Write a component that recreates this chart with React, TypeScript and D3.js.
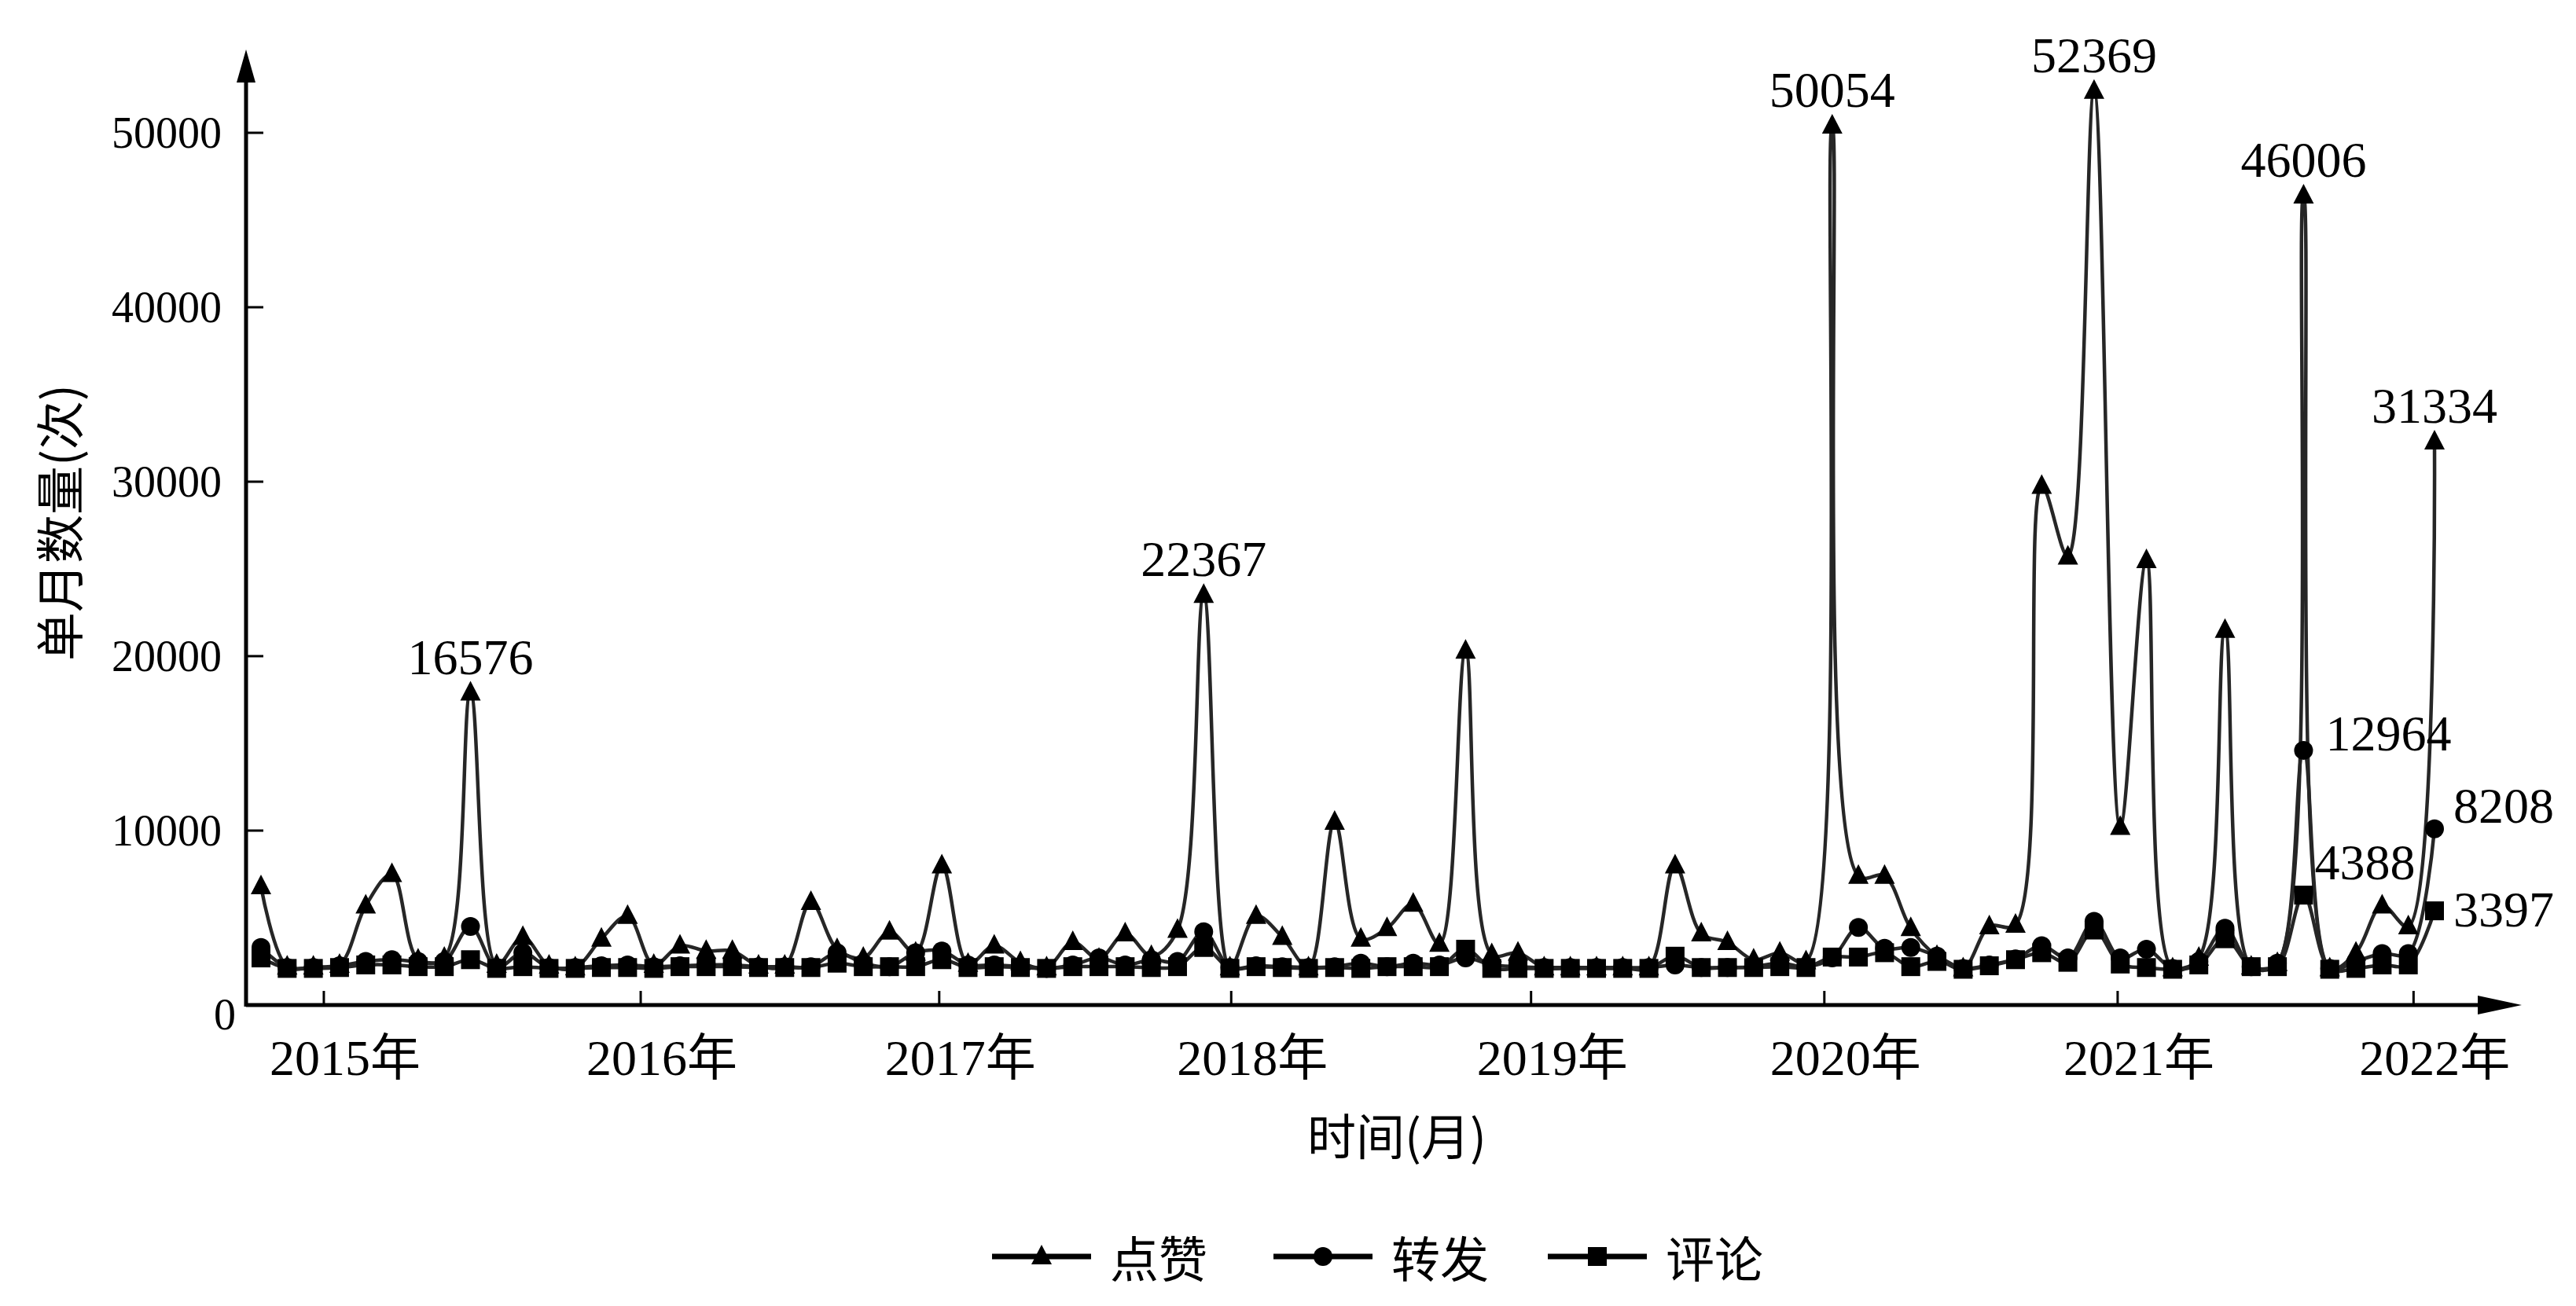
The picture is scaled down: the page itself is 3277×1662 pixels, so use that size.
import React from 'react';
import * as d3 from 'd3';

const W = 3277;
const H = 1662;

// monthly counts (one entry per month, left to right)
const likes = [
  6800, 2200, 2200, 2300, 5700, 7500, 2600, 2700, 17900, 2300,
  3900, 2250, 2150, 3800, 5100, 2300, 3400, 3100, 3100, 2250,
  2250, 5900, 3200, 2700, 4200, 3000, 8000, 2350, 3400, 2450,
  2150, 3600, 2650, 4100, 2800, 4300, 23500, 2150, 5100, 3900,
  2150, 10500, 3800, 4400, 5800, 3500, 20300, 2900, 3000, 2150,
  2150, 2150, 2150, 2150, 8000, 4100, 3600, 2600, 3000, 2500,
  50400, 7400, 7400, 4400, 2800, 2100, 4500, 4600, 29750, 25700,
  52400, 10200, 25500, 2100, 2700, 21500, 2200, 2400, 46400, 2100,
  3000, 5700, 4500, 32300,
];

const reposts = [
  3300, 2150, 2150, 2250, 2500, 2600, 2500, 2500, 4500, 2150,
  3000, 2150, 2150, 2250, 2300, 2200, 2250, 2300, 2300, 2200,
  2200, 2200, 3000, 2400, 2200, 3000, 3100, 2300, 2300, 2200,
  2100, 2300, 2700, 2300, 2600, 2500, 4200, 2150, 2250, 2200,
  2150, 2200, 2400, 2200, 2400, 2300, 2700, 2300, 2200, 2150,
  2150, 2150, 2150, 2150, 2300, 2150, 2150, 2200, 2400, 2200,
  2700, 4450, 3250, 3300, 2800, 2100, 2300, 2650, 3400, 2700,
  4800, 2700, 3200, 2100, 2500, 4400, 2200, 2400, 14600, 2100,
  2500, 2950, 2950, 10100,
];

const comments = [
  2700, 2100, 2100, 2150, 2300, 2300, 2200, 2200, 2600, 2100,
  2200, 2100, 2100, 2150, 2150, 2100, 2200, 2200, 2200, 2150,
  2150, 2150, 2400, 2200, 2200, 2200, 2600, 2150, 2200, 2150,
  2100, 2200, 2200, 2200, 2150, 2200, 3300, 2100, 2200, 2150,
  2100, 2150, 2100, 2200, 2200, 2200, 3200, 2100, 2100, 2100,
  2100, 2100, 2100, 2100, 2800, 2150, 2150, 2150, 2200, 2150,
  2750, 2750, 3000, 2200, 2500, 2050, 2250, 2600, 3000, 2450,
  4300, 2350, 2150, 2050, 2300, 3800, 2200, 2200, 6300, 2050,
  2100, 2300, 2300, 5400,
];

const yTicks = [0, 10000, 20000, 30000, 40000, 50000];
const yearLabels = ['2015年', '2016年', '2017年', '2018年', '2019年', '2020年', '2021年', '2022年'];
// where each year tick falls, in month-index units
const yearTickAt = [2.4, 14.5, 25.9, 37.05, 48.5, 59.7, 70.9, 82.2];

const seriesNames = ['点赞', '转发', '评论'];

// value labels written on the figure: [series, month index, text]
const peakNotes: [number, number, string][] = [
  [0, 8, '16576'],
  [0, 36, '22367'],
  [0, 60, '50054'],
  [0, 70, '52369'],
  [0, 78, '46006'],
  [0, 83, '31334'],
];
const sideNotes: [number, number, string][] = [
  [1, 78, '12964'],
  [2, 78, '4388'],
  [1, 83, '8208'],
  [2, 83, '3397'],
];
const sideOffset: Record<string, [number, number]> = {
  '12964': [28, 0],
  '4388': [14, -20],
  '8208': [24, -8],
  '3397': [24, 20],
};

const serif = '"Liberation Serif", "Times New Roman", "Noto Sans CJK SC", serif';
const cjk = '"Noto Sans CJK SC", "Liberation Serif", sans-serif';

const axisX = 313;
const axisY = 1279;

function Marker({ kind, x, y }: { kind: number; x: number; y: number }) {
  if (kind === 0) {
    return <path d={`M${x},${y - 15} L${x + 13},${y + 10} L${x - 13},${y + 10} Z`} fill="#000" />;
  }
  if (kind === 1) {
    return <circle cx={x} cy={y} r={12} fill="#000" />;
  }
  return <rect x={x - 12} y={y - 12} width={24} height={24} fill="#000" />;
}

export default function App() {
  const series = [likes, reposts, comments];

  const x = d3.scaleLinear().domain([0, likes.length - 1]).range([332, 3097]);
  const y = d3.scaleLinear().domain([0, 50000]).range([axisY, 169]);

  const line = d3
    .line<number>()
    .x((_, i) => x(i))
    .y(d => y(d))
    .curve(d3.curveCatmullRom.alpha(0.5));

  const xEnd = 3208;
  const yTop = 63;

  return (
    <div style={{ position: 'absolute', left: 0, top: 0 }}>
      <svg width={W} height={H} viewBox={`0 0 ${W} ${H}`} style={{ display: 'block', background: '#fff' }}>
        {/* lines */}
        {series.map((vals, si) => (
          <path key={si} d={line(vals) || ''} fill="none" stroke="#262626" strokeWidth={4.5} />
        ))}
        {/* markers */}
        {series.map((vals, si) => (
          <g key={si}>
            {vals.map((v, i) => (
              <Marker key={i} kind={si} x={x(i)} y={y(v)} />
            ))}
          </g>
        ))}

        {/* axes */}
        <line x1={axisX} y1={axisY} x2={xEnd - 50} y2={axisY} stroke="#000" strokeWidth={5} />
        <path d={`M${xEnd},${axisY} L${xEnd - 56},${axisY - 12} L${xEnd - 56},${axisY + 12} Z`} fill="#000" />
        <line x1={axisX} y1={axisY + 2} x2={axisX} y2={yTop + 38} stroke="#000" strokeWidth={5} />
        <path d={`M${axisX},${yTop} L${axisX - 12},${yTop + 42} L${axisX + 12},${yTop + 42} Z`} fill="#000" />

        {yTicks.map(t => (
          <g key={t}>
            {t > 0 && <line x1={axisX} y1={y(t)} x2={axisX + 22} y2={y(t)} stroke="#000" strokeWidth={3} />}
            <text
              x={t === 0 ? 300 : 282}
              y={t === 0 ? y(t) + 12 : y(t)}
              textAnchor="end"
              dominantBaseline="central"
              fontFamily={serif}
              fontSize={56}
            >
              {t}
            </text>
          </g>
        ))}

        {yearLabels.map((lab, i) => {
          const tx = x(yearTickAt[i]);
          return (
            <g key={lab}>
              <line x1={tx} y1={axisY} x2={tx} y2={axisY - 18} stroke="#000" strokeWidth={3} />
              <text x={tx + 27} y={1368} textAnchor="middle" fontFamily={serif} fontSize={64}>
                {lab}
              </text>
            </g>
          );
        })}

        {/* value labels */}
        {peakNotes.map(([si, i, txt]) => (
          <text key={txt} x={x(i)} y={y(series[si][i]) - 24} textAnchor="middle" fontFamily={serif} fontSize={64}>
            {txt}
          </text>
        ))}
        {sideNotes.map(([si, i, txt]) => (
          <text
            key={txt}
            x={x(i) + sideOffset[txt][0]}
            y={y(series[si][i]) + sideOffset[txt][1]}
            fontFamily={serif}
            fontSize={64}
          >
            {txt}
          </text>
        ))}

        {/* axis titles */}
        <text transform="translate(100,665) rotate(-90)" textAnchor="middle" fontFamily={cjk} fontSize={62}>
          单月数量(次)
        </text>
        <text x={1777} y={1470} textAnchor="middle" fontFamily={cjk} fontSize={62}>
          时间(月)
        </text>

        {/* legend */}
        {seriesNames.map((name, si) => {
          const lx = [1262, 1620, 1969][si];
          const cy = 1599;
          return (
            <g key={name}>
              <line x1={lx} y1={cy} x2={lx + 126} y2={cy} stroke="#000" strokeWidth={7} />
              <Marker kind={si} x={lx + 63} y={cy} />
              <text x={lx + 150} y={cy} dominantBaseline="central" fontFamily={cjk} fontSize={62}>
                {name}
              </text>
            </g>
          );
        })}
      </svg>
    </div>
  );
}
